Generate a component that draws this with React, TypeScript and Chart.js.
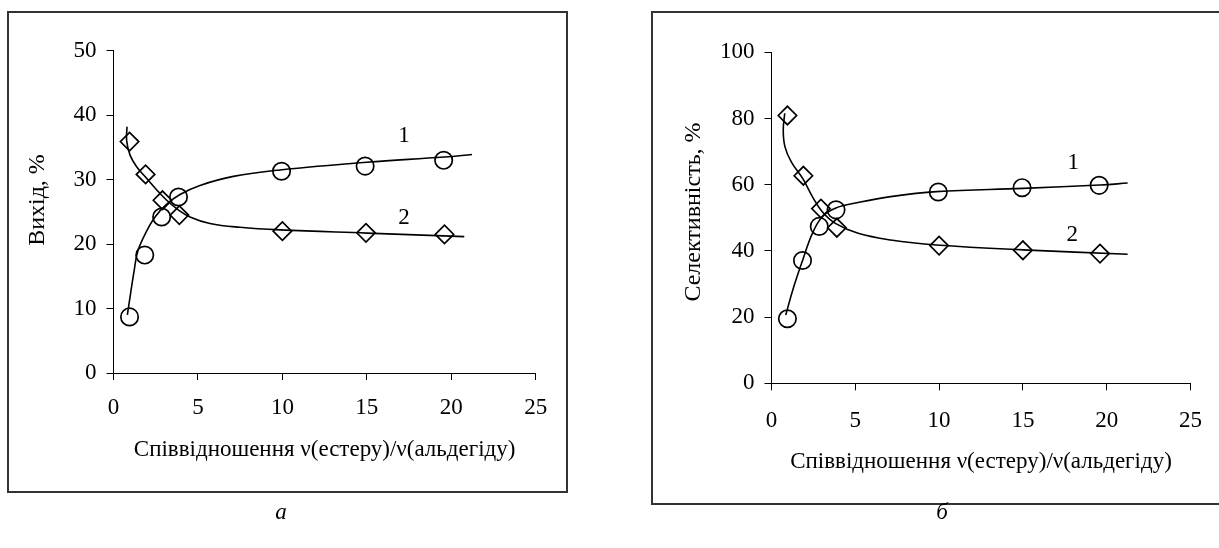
import React, { useEffect, useRef } from 'react';
import { Chart, registerables } from 'chart.js';

Chart.register(...registerables);

const FONT = '"Liberation Serif", "Times New Roman", serif';
const FONT_SIZE = 23;
const YTITLE_SIZE = 24;

// ---- Chart а: Вихід (yield), % ----
const yieldX1 = [0.95, 1.85, 2.85, 3.85, 9.95, 14.9, 19.55];
const yieldY1 = [8.7, 18.3, 24.2, 27.3, 31.3, 32.1, 33.0];
const yieldX2 = [0.95, 1.9, 2.9, 3.9, 10.0, 14.95, 19.6];
const yieldY2 = [35.9, 30.8, 26.8, 24.5, 22.0, 21.75, 21.5];
// trend curves
const yieldCurve1X = [0.82, 1.23, 1.45, 1.96, 2.46, 3.15, 3.94, 5.12, 7.1, 9.86, 15, 19.6, 21.23];
const yieldCurve1Y = [9.0, 16.0, 19.0, 22.0, 24.2, 26.2, 27.7, 29.1, 30.5, 31.5, 32.7, 33.5, 33.9];
const yieldCurve2X = [0.8, 0.78, 0.98, 1.37, 1.96, 2.56, 3.15, 3.74, 4.53, 5.71, 7.49, 9.86, 15, 20.77];
const yieldCurve2Y = [38.2, 36.0, 33.8, 32.0, 30.2, 28.4, 26.8, 25.5, 24.2, 23.2, 22.6, 22.2, 21.7, 21.15];

// ---- Chart б: Селективність, % ----
const selX1 = [0.95, 1.85, 2.85, 3.85, 9.95, 14.95, 19.55];
const selY1 = [19.5, 37.1, 47.4, 52.4, 57.8, 59.1, 59.8];
const selX2 = [0.95, 1.9, 2.95, 3.9, 10.0, 15.0, 19.6];
const selY2 = [80.9, 62.7, 52.8, 47.0, 41.6, 40.2, 39.2];
const selCurve1X = [0.85, 1.27, 1.86, 2.44, 3.03, 3.81, 5.17, 7.11, 9.84, 15, 19.6, 21.25];
const selCurve1Y = [20.6, 28.2, 37.2, 45.3, 50.3, 52.9, 54.6, 56.4, 57.9, 58.9, 59.9, 60.5];
const selCurve2X = [0.79, 0.7, 0.8, 1.18, 1.86, 2.44, 3.03, 3.81, 5.17, 7.11, 9.84, 15, 21.25];
const selCurve2Y = [81.6, 76.5, 71.5, 66.9, 61.9, 56.4, 51.8, 48.3, 45.3, 43.3, 41.8, 40.3, 39.0];

const xTitle = 'Співвідношення ν(естеру)/ν(альдегіду)';
const xMin = 0;
const xMax = 25;
const xStep = 5;

const pts = (xs: number[], ys: number[]) => xs.map((x, i) => ({ x, y: ys[i] }));

const textPlugin = {
  id: 'texts',
  afterDraw(chart: any) {
    const o = chart.options.plugins.texts;
    if (!o) return;
    const ctx = chart.ctx;
    const { chartArea, scales } = chart;
    ctx.save();
    ctx.fillStyle = '#000';
    ctx.font = `${FONT_SIZE}px ${FONT}`;
    ctx.textAlign = 'center';
    ctx.textBaseline = 'middle';
    // x title
    ctx.fillText(o.xTitle, (chartArea.left + chartArea.right) / 2, o.xTitleY);
    // curve labels
    for (const l of o.labels) {
      ctx.fillText(l.t, scales.x.getPixelForValue(l.x), scales.y.getPixelForValue(l.y));
    }
    // y title
    ctx.font = `${YTITLE_SIZE}px ${FONT}`;
    ctx.translate(o.yTitleX, o.yTitleY);
    ctx.rotate(-Math.PI / 2);
    ctx.fillText(o.yTitle, 0, 0);
    ctx.restore();
  },
};

type Cfg = {
  s1x: number[]; s1y: number[]; s2x: number[]; s2y: number[];
  c1x: number[]; c1y: number[]; c2x: number[]; c2y: number[];
  yMax: number; yStep: number;
  padTop: number; padRight: number; yWidth: number; xHeight: number;
  yTickPad: number; xTickPad: number;
  yTitle: string; yTitleX: number; yTitleY: number; xTitleY: number;
  labels: { t: string; x: number; y: number }[];
};

function makeConfig(c: Cfg): any {
  const curve = (d: any[]) => ({
    data: d,
    showLine: true,
    borderColor: '#000',
    borderWidth: 1.6,
    pointRadius: 0,
    tension: 0.4,
    fill: false,
  });
  const marks = (d: any[], style: string, r: number) => ({
    data: d,
    showLine: false,
    pointStyle: style,
    pointRadius: r,
    pointBorderColor: '#000',
    pointBackgroundColor: 'rgba(0,0,0,0)',
    pointBorderWidth: 1.7,
  });
  return {
    type: 'scatter',
    data: {
      datasets: [
        curve(pts(c.c1x, c.c1y)),
        curve(pts(c.c2x, c.c2y)),
        marks(pts(c.s1x, c.s1y), 'circle', 8.7),
        marks(pts(c.s2x, c.s2y), 'rectRot', 9.2),
      ],
    },
    options: {
      responsive: false,
      animation: false,
      layout: { padding: { left: 0, top: c.padTop, right: c.padRight, bottom: 0 } },
      plugins: {
        legend: { display: false },
        tooltip: { enabled: false },
        texts: {
          xTitle,
          xTitleY: c.xTitleY,
          yTitle: c.yTitle,
          yTitleX: c.yTitleX,
          yTitleY: c.yTitleY,
          labels: c.labels,
        },
      },
      scales: {
        x: {
          type: 'linear',
          min: xMin,
          max: xMax,
          afterFit: (s: any) => { s.height = c.xHeight; },
          ticks: { stepSize: xStep, color: '#000', padding: c.xTickPad, font: { family: FONT, size: FONT_SIZE } },
          grid: { display: true, drawOnChartArea: false, drawTicks: true, tickLength: 7, color: '#000', lineWidth: 1 },
          border: { display: true, color: '#000', width: 1 },
        },
        y: {
          type: 'linear',
          min: 0,
          max: c.yMax,
          afterFit: (s: any) => { s.width = c.yWidth; },
          ticks: { stepSize: c.yStep, color: '#000', padding: c.yTickPad, font: { family: FONT, size: FONT_SIZE } },
          grid: { display: true, drawOnChartArea: false, drawTicks: true, tickLength: 7, color: '#000', lineWidth: 1 },
          border: { display: true, color: '#000', width: 1 },
        },
      },
    },
    plugins: [textPlugin],
  };
}

function ChartCanvas({ cfg, left, width }: { cfg: Cfg; left: number; width: number }) {
  const ref = useRef<HTMLCanvasElement>(null);
  useEffect(() => {
    if (!ref.current) return;
    const chart = new Chart(ref.current, makeConfig(cfg));
    return () => chart.destroy();
  }, []);
  return (
    <canvas
      ref={ref}
      width={width}
      height={548}
      style={{ position: 'absolute', left, top: 0, width, height: 548 }}
    />
  );
}

const cfgA: Cfg = {
  s1x: yieldX1, s1y: yieldY1, s2x: yieldX2, s2y: yieldY2,
  c1x: yieldCurve1X, c1y: yieldCurve1Y, c2x: yieldCurve2X, c2y: yieldCurve2Y,
  yMax: 50, yStep: 10,
  padTop: 50.7, padRight: 64.3, yWidth: 113.5, xHeight: 175,
  yTickPad: 10, xTickPad: 14,
  yTitle: 'Вихід, %', yTitleX: 38, yTitleY: 200, xTitleY: 450,
  labels: [{ t: '1', x: 17.2, y: 36.8 }, { t: '2', x: 17.2, y: 24.0 }],
};

const cfgB: Cfg = {
  s1x: selX1, s1y: selY1, s2x: selX2, s2y: selY2,
  c1x: selCurve1X, c1y: selCurve1Y, c2x: selCurve2X, c2y: selCurve2Y,
  yMax: 100, yStep: 20,
  padTop: 52.3, padRight: 19.7, yWidth: 119.5, xHeight: 164.7,
  yTickPad: 10, xTickPad: 17,
  yTitle: 'Селективність, %', yTitleX: 42, yTitleY: 212, xTitleY: 462,
  labels: [{ t: '1', x: 18.0, y: 66.5 }, { t: '2', x: 17.95, y: 44.8 }],
};

export default function App() {
  return (
    <div style={{ position: 'fixed', left: 0, top: 0, width: 1219, height: 548, background: '#fff', overflow: 'hidden' }}>
      <div style={{ position: 'absolute', left: 7, top: 11, width: 561, height: 482, border: '2px solid #333', boxSizing: 'border-box' }} />
      <div style={{ position: 'absolute', left: 651, top: 11, width: 620, height: 494, border: '2px solid #333', boxSizing: 'border-box' }} />
      <ChartCanvas cfg={cfgA} left={0} width={600} />
      <ChartCanvas cfg={cfgB} left={652} width={567} />
      <div style={{ position: 'absolute', left: 271, top: 498, width: 20, textAlign: 'center', fontFamily: FONT, fontStyle: 'italic', fontSize: 23, lineHeight: '28px' }}>а</div>
      <div style={{ position: 'absolute', left: 932, top: 498, width: 20, textAlign: 'center', fontFamily: FONT, fontStyle: 'italic', fontSize: 23, lineHeight: '28px' }}>б</div>
    </div>
  );
}
